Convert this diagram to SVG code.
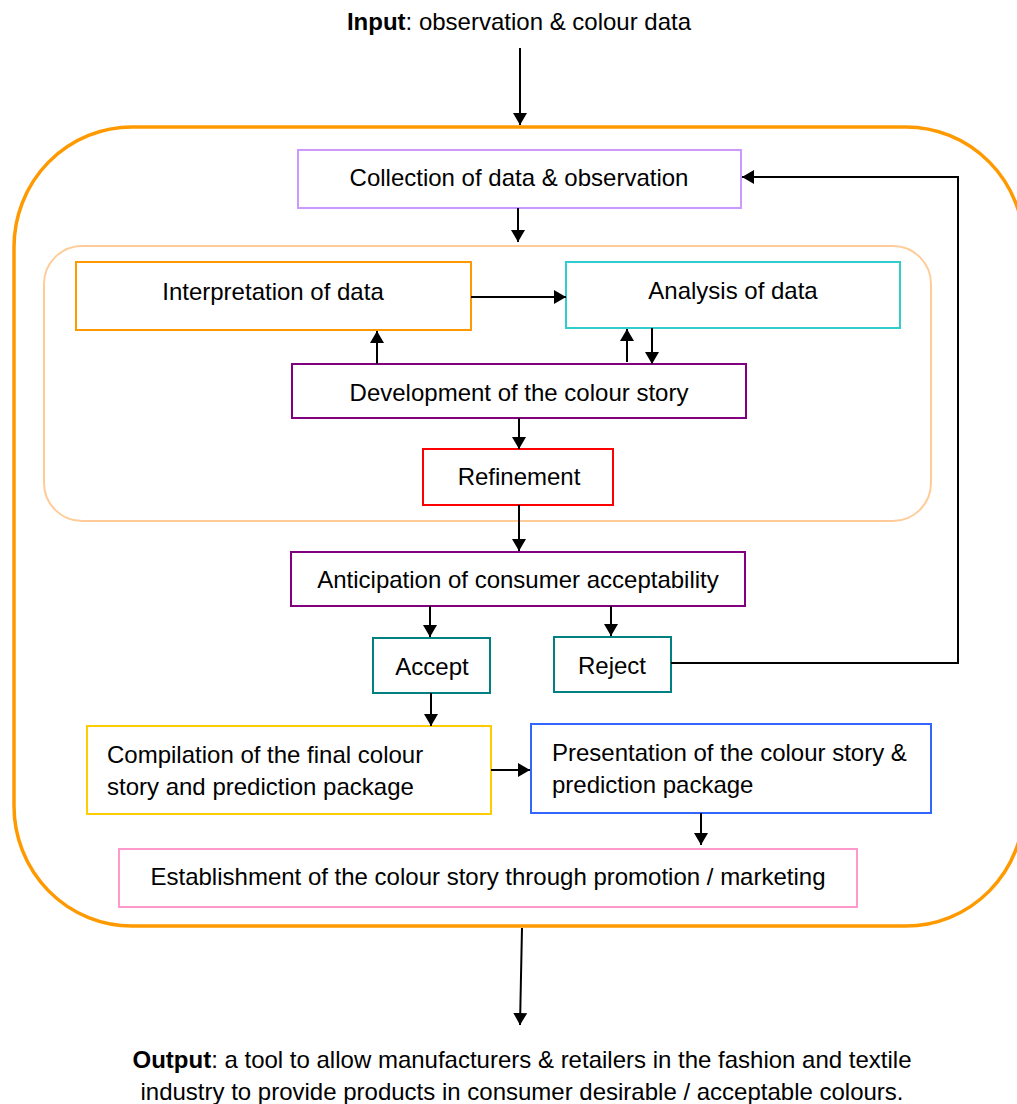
<svg xmlns="http://www.w3.org/2000/svg" width="1017" height="1104" viewBox="0 0 1017 1104">
<style>
text{font-family:"Liberation Sans",Arial,sans-serif;font-size:24px;fill:#000}
.c{text-anchor:middle}
.box{fill:#fff;stroke-width:2}
.ln{fill:none;stroke:#000;stroke-width:2}
</style>
<defs>
<marker id="ah" viewBox="0 0 12 16" refX="12" refY="8" markerWidth="12" markerHeight="16" markerUnits="userSpaceOnUse" orient="auto">
<path d="M0,1 L12,8 L0,15 Z" fill="#000"/>
</marker>
</defs>
<rect width="1017" height="1104" fill="#fff"/>
<g id="outer"><rect x="14" y="127" width="1010" height="799" rx="118" ry="120" fill="none" stroke="#ff9900" stroke-width="3.5"/></g>
<g id="inner"><rect x="44" y="246" width="887" height="275" rx="38" ry="38" fill="none" stroke="#ffcc99" stroke-width="2"/></g>
<g id="input"><text class="c" x="519" y="30"><tspan font-weight="bold">Input</tspan>: observation &amp; colour data</text></g>
<g id="collection"><rect class="box" x="298" y="150" width="443" height="58" stroke="#cc99ff"/><text class="c" x="519" y="186">Collection of data &amp; observation</text></g>
<g id="interpretation"><rect class="box" x="76" y="262" width="395" height="68" stroke="#ff9900"/><text class="c" x="273" y="300">Interpretation of data</text></g>
<g id="analysis"><rect class="box" x="566" y="262" width="334" height="66" stroke="#33cccc"/><text class="c" x="733" y="299">Analysis of data</text></g>
<g id="development"><rect class="box" x="292" y="364" width="454" height="54" stroke="#800080"/><text class="c" x="519" y="401">Development of the colour story</text></g>
<g id="refinement"><rect class="box" x="423" y="449" width="190" height="56" stroke="#ff0000"/><text class="c" x="519" y="485">Refinement</text></g>
<g id="anticipation"><rect class="box" x="291" y="552" width="454" height="54" stroke="#800080"/><text class="c" x="518" y="588">Anticipation of consumer acceptability</text></g>
<g id="accept"><rect class="box" x="373" y="638" width="117" height="55" stroke="#008080"/><text class="c" x="432" y="675">Accept</text></g>
<g id="reject"><rect class="box" x="554" y="637" width="117" height="55" stroke="#008080"/><text class="c" x="612" y="674">Reject</text></g>
<g id="compilation"><rect class="box" x="87" y="726" width="404" height="88" stroke="#ffcc00"/><text x="107" y="763">Compilation of the final colour</text><text x="107" y="795">story and prediction package</text></g>
<g id="presentation"><rect class="box" x="531" y="724" width="400" height="89" stroke="#3366ff"/><text x="552" y="761">Presentation of the colour story &amp;</text><text x="552" y="793">prediction package</text></g>
<g id="establishment"><rect class="box" x="119" y="849" width="738" height="58" stroke="#ff99cc"/><text class="c" x="488" y="885">Establishment of the colour story through promotion / marketing</text></g>
<g id="output"><text class="c" x="522" y="1068"><tspan font-weight="bold">Output</tspan>: a tool to allow manufacturers &amp; retailers in the fashion and textile</text><text class="c" x="522" y="1100">industry to provide products in consumer desirable / acceptable colours.</text></g>
<g id="connectors">
<line class="ln" x1="520" y1="48" x2="520" y2="125" marker-end="url(#ah)"/>
<line class="ln" x1="518" y1="208" x2="518" y2="242" marker-end="url(#ah)"/>
<line class="ln" x1="471" y1="297" x2="566" y2="297" stroke-width="2.5" marker-end="url(#ah)"/>
<line class="ln" x1="377" y1="364" x2="377" y2="331" marker-end="url(#ah)"/>
<line class="ln" x1="627" y1="362" x2="627" y2="329" marker-end="url(#ah)"/>
<line class="ln" x1="652" y1="328" x2="652" y2="364" marker-end="url(#ah)"/>
<line class="ln" x1="519" y1="418" x2="519" y2="449" marker-end="url(#ah)"/>
<line class="ln" x1="519" y1="505" x2="519" y2="551" marker-end="url(#ah)"/>
<line class="ln" x1="430" y1="606" x2="430" y2="637" marker-end="url(#ah)"/>
<line class="ln" x1="611" y1="606" x2="611" y2="636" marker-end="url(#ah)"/>
<polyline class="ln" points="671,663 958,663 958,177 742,177" marker-end="url(#ah)"/>
<line class="ln" x1="431" y1="693" x2="431" y2="726" marker-end="url(#ah)"/>
<line class="ln" x1="491" y1="770" x2="530" y2="770" stroke-width="2.5" marker-end="url(#ah)"/>
<line class="ln" x1="701" y1="813" x2="701" y2="845" marker-end="url(#ah)"/>
<line class="ln" x1="522" y1="928" x2="520" y2="1025" marker-end="url(#ah)"/>
</g>
</svg>
